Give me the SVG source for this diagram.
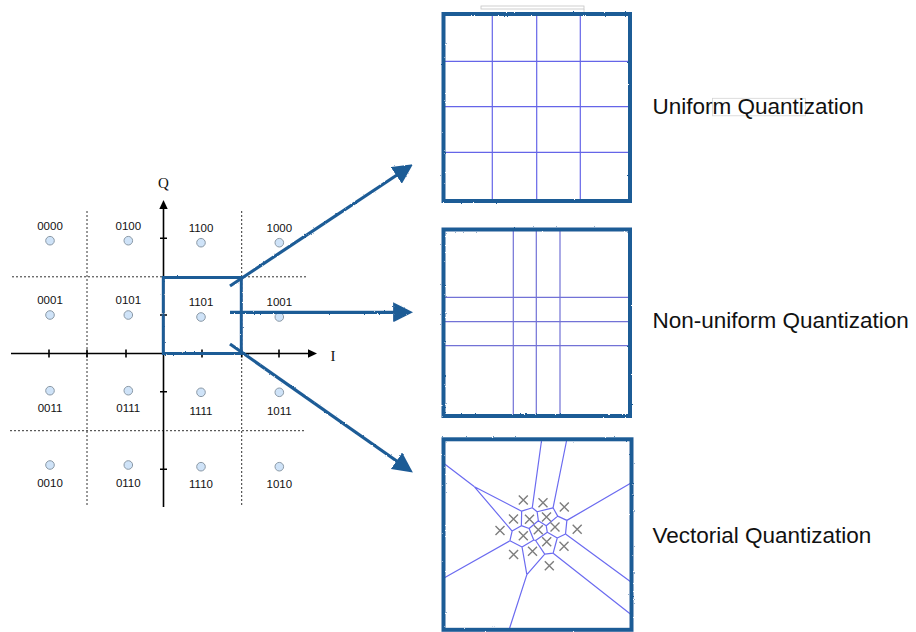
<svg xmlns="http://www.w3.org/2000/svg" width="916" height="632" viewBox="0 0 916 632">
<defs>
<style>
.frame{fill:none;stroke:#1f5b96;stroke-width:4;filter:url(#rough)}
.grid{stroke:#6565e8;stroke-width:1.2}
.grid2{stroke:#7272d6;stroke-width:1.2}
.vor{stroke:#6b6bf0;stroke-width:1.2;fill:none}
.xm{stroke:#7d7d7d;stroke-width:1.4;fill:none}
.lbl{font-family:"Liberation Sans",Arial,sans-serif;font-size:11.5px;fill:#111;text-anchor:middle}
.title{font-family:"Liberation Sans",Arial,sans-serif;font-size:22.5px;fill:#111}
.axl{font-family:"Liberation Serif","Times New Roman",serif;font-size:15px;fill:#111;text-anchor:middle}
.dot{fill:#cfe3f8;stroke:#8b99a6;stroke-width:1}
.dash{stroke:#333;stroke-width:1;stroke-dasharray:2 2;fill:none}
.axis{stroke:#000;stroke-width:1.6;fill:none}
.arrow{stroke:#1f5b96;stroke-width:3.2;fill:none;marker-end:url(#ah);filter:url(#rough)}
.art{fill:none;stroke:#c4c4c4;stroke-width:0.8}
</style>
<filter id="rough" filterUnits="userSpaceOnUse" x="0" y="0" width="916" height="632">
<feTurbulence type="fractalNoise" baseFrequency="0.9" numOctaves="1" seed="3" result="n"/>
<feDisplacementMap in="SourceGraphic" in2="n" scale="2.2" xChannelSelector="R" yChannelSelector="G"/>
</filter>
<marker id="ah" markerUnits="userSpaceOnUse" markerWidth="20" markerHeight="20" viewBox="0 0 18 18" refX="8" refY="9" orient="auto">
<path d="M0,0 L18,9 L0,18 Z" fill="#1f5b96"/>
</marker>
</defs>
<rect width="916" height="632" fill="#fff"/>

<g id="constellation">
<g id="grid-lines">
<line class="dash" x1="87" y1="211" x2="87" y2="507"/>
<line class="dash" x1="241.7" y1="211" x2="241.7" y2="507"/>
<line class="dash" x1="12" y1="276.8" x2="308" y2="276.8"/>
<line class="dash" x1="10" y1="430.7" x2="305" y2="430.7"/>
</g>
<g id="axes">
<line class="axis" x1="11" y1="353.5" x2="310" y2="353.5"/>
<polygon points="317,353.5 308,349.3 308,357.7" fill="#000"/>
<line class="axis" x1="163.5" y1="507" x2="163.5" y2="207"/>
<polygon points="163.5,200 159.3,209 167.7,209" fill="#000"/>
<path class="axis" d="M49,349.5V357.5M126,349.5V357.5M202,349.5V357.5M279,349.5V357.5M87,349.5V357.5M241.7,349.5V357.5"/>
<path class="axis" d="M160,238.3H167M160,315H167M160,391.7H167M160,469.3H167"/>
<text class="axl" x="163.5" y="188">Q</text>
<text class="axl" x="333" y="360.5">I</text>
</g>
<g id="pt-0000"><circle class="dot" cx="50" cy="240.7" r="4.3"/><text class="lbl" x="50" y="229.8">0000</text></g>
<g id="pt-0100"><circle class="dot" cx="128.3" cy="240.7" r="4.3"/><text class="lbl" x="128.3" y="229.8">0100</text></g>
<g id="pt-1100"><circle class="dot" cx="201" cy="242.7" r="4.3"/><text class="lbl" x="201" y="231.8">1100</text></g>
<g id="pt-1000"><circle class="dot" cx="279.3" cy="242.7" r="4.3"/><text class="lbl" x="279.3" y="231.8">1000</text></g>
<g id="pt-0001"><circle class="dot" cx="50" cy="315" r="4.3"/><text class="lbl" x="50" y="304.1">0001</text></g>
<g id="pt-0101"><circle class="dot" cx="128.3" cy="315" r="4.3"/><text class="lbl" x="128.3" y="304.1">0101</text></g>
<g id="pt-1101"><circle class="dot" cx="201" cy="317" r="4.3"/><text class="lbl" x="201" y="305.8">1101</text></g>
<g id="pt-1001"><circle class="dot" cx="279.3" cy="317" r="4.3"/><text class="lbl" x="279.3" y="305.8">1001</text></g>
<g id="pt-0011"><circle class="dot" cx="50" cy="390.7" r="4.3"/><text class="lbl" x="50" y="412.4">0011</text></g>
<g id="pt-0111"><circle class="dot" cx="128.3" cy="390.7" r="4.3"/><text class="lbl" x="128.3" y="412.4">0111</text></g>
<g id="pt-1111"><circle class="dot" cx="201" cy="392.3" r="4.3"/><text class="lbl" x="201" y="414.8">1111</text></g>
<g id="pt-1011"><circle class="dot" cx="279.3" cy="392.3" r="4.3"/><text class="lbl" x="279.3" y="414.8">1011</text></g>
<g id="pt-0010"><circle class="dot" cx="50" cy="465" r="4.3"/><text class="lbl" x="50" y="486.8">0010</text></g>
<g id="pt-0110"><circle class="dot" cx="128.3" cy="465" r="4.3"/><text class="lbl" x="128.3" y="486.8">0110</text></g>
<g id="pt-1110"><circle class="dot" cx="201" cy="466.7" r="4.3"/><text class="lbl" x="201" y="488.1">1110</text></g>
<g id="pt-1010"><circle class="dot" cx="279.3" cy="466.7" r="4.3"/><text class="lbl" x="279.3" y="488.1">1010</text></g>
</g>

<g id="selection">
<rect class="frame" x="163.3" y="277.5" width="78" height="76" style="stroke-width:3"/>
</g>

<g id="connectors">
<line class="arrow" x1="230" y1="286" x2="403.7" y2="170.5"/>
<line class="arrow" x1="230" y1="312.3" x2="402" y2="312.3"/>
<line class="arrow" x1="230" y1="344" x2="403.8" y2="466"/>
</g>

<g id="uniform">
<rect class="art" x="481" y="6" width="103" height="3"/>
<line class="art" x1="584" y1="9" x2="584" y2="12"/>
<path class="grid" d="M492.3,14V201M536.7,14V201M580.3,14V201M443.5,61.3H630M443.5,106.7H630M443.5,152.3H630"/>
<rect class="frame" x="443.5" y="14" width="186.5" height="187"/>
<rect class="art" x="712.5" y="98.3" width="93" height="17.5" style="stroke:#d4d4d4"/>
<text class="title" x="652.5" y="114.3">Uniform Quantization</text>
</g>

<g id="nonuniform">
<path class="grid2" d="M513.3,229.5V416M536.3,229.5V416M560,229.5V416M443.5,297.3H630M443.5,321.7H630M443.5,345.7H630"/>
<rect class="frame" x="443.5" y="229.5" width="186.5" height="186.5"/>
<text class="title" x="652.5" y="328.3">Non-uniform Quantization</text>
</g>

<g id="vectorial">
<path class="vor" d="M474.45,486.83L521.65,511.18M474.45,486.83L512.13,531.06M521.65,511.18L532.27,507.76M521.65,511.18L521.38,525.66M532.27,507.76L537.13,511.72M537.13,511.72L538.35,520.74M537.13,511.72L553.05,507.82M553.05,507.82L557.7,516.09M557.7,516.09L546.24,525.83M557.7,516.09L566.87,520.36M566.87,520.36L565.52,533.94M538.35,520.74L546.24,525.83M538.35,520.74L529.1,528.56M546.24,525.83L547.3,532.34M521.38,525.66L529.1,528.56M521.38,525.66L512.13,531.06M529.1,528.56L533.75,540M512.13,531.06L509.93,540.73M509.93,540.73L522.03,547.01M522.03,547.01L526.86,574.66M522.03,547.01L533.75,540M533.75,540L535.63,540.51M535.63,540.51L547.3,532.34M535.63,540.51L544.72,554.1M547.3,532.34L557.25,537.97M557.25,537.97L565.52,533.94M557.25,537.97L553.15,553.19M553.15,553.19L544.72,554.1M544.72,554.1L526.86,574.66"/>
<path class="vor" d="M474.45,486.83L444,463.6M532.27,507.76L541.6,440M553.05,507.82L566.7,440M566.87,520.36L631,483.1M565.52,533.94L631,582M553.15,553.19L631,614.5M526.86,574.66L509,630M509.93,540.73L444,578.1"/>
<g id="codewords" class="xm">
<path d="M518.8,495.5l9,9m0,-9l-9,9"/>
<path d="M538.5,498.2l9,9m0,-9l-9,9"/>
<path d="M559.8,502.5l9,9m0,-9l-9,9"/>
<path d="M509,514.5l9,9m0,-9l-9,9"/>
<path d="M525,514.8l9,9m0,-9l-9,9"/>
<path d="M542,512.5l9,9m0,-9l-9,9"/>
<path d="M550.5,522.5l9,9m0,-9l-9,9"/>
<path d="M495.5,526l9,9m0,-9l-9,9"/>
<path d="M533.8,525.2l9,9m0,-9l-9,9"/>
<path d="M572.7,524.7l9,9m0,-9l-9,9"/>
<path d="M518.8,531.3l9,9m0,-9l-9,9"/>
<path d="M542.2,537.2l9,9m0,-9l-9,9"/>
<path d="M559.5,541.8l9,9m0,-9l-9,9"/>
<path d="M509.1,550l9,9m0,-9l-9,9"/>
<path d="M528,546.7l9,9m0,-9l-9,9"/>
<path d="M544.8,561.3l9,9m0,-9l-9,9"/>
</g>
<rect class="frame" x="443.5" y="439.3" width="188" height="190.5"/>
<text class="title" x="652.5" y="543.3">Vectorial Quantization</text>
</g>
</svg>
